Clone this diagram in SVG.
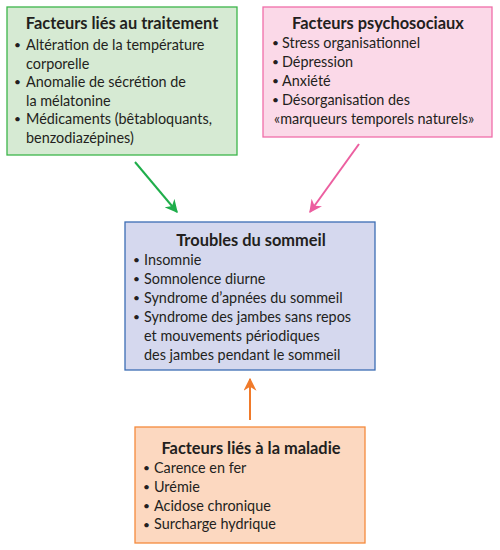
<svg xmlns="http://www.w3.org/2000/svg" width="500" height="550" viewBox="0 0 500 550">
<style>
text{font-family:Lato,"Open Sans","DejaVu Sans",sans-serif;font-size:14.4px;fill:#231f20}
.t{font-weight:bold;text-anchor:middle;font-size:16.4px}
.b{font-size:12px}
.box{stroke-width:1.3}
.a{fill:none;stroke-width:2}
</style>
<defs>
<marker id="mg" viewBox="0 0 10 10" refX="9" refY="5" markerWidth="13" markerHeight="13" orient="auto" markerUnits="userSpaceOnUse"><path d="M0,0L10,5L0,10L3,5z" fill="#1fae4b"/></marker>
<marker id="mp" viewBox="0 0 10 10" refX="9" refY="5" markerWidth="13" markerHeight="13" orient="auto" markerUnits="userSpaceOnUse"><path d="M0,0L10,5L0,10L3,5z" fill="#ec5fa0"/></marker>
<marker id="mo" viewBox="0 0 10 10" refX="9" refY="5" markerWidth="13" markerHeight="13" orient="auto" markerUnits="userSpaceOnUse"><path d="M0,0L10,5L0,10L3,5z" fill="#f07a2a"/></marker>
</defs>
<g id="connectors">
<line class="a" x1="135" y1="162" x2="177" y2="212" stroke="#1fae4b" marker-end="url(#mg)"/>
<line class="a" x1="359" y1="144" x2="310" y2="212" stroke="#ec5fa0" marker-end="url(#mp)"/>
<line class="a" x1="250" y1="420" x2="250" y2="379" stroke="#f07a2a" marker-end="url(#mo)"/>
</g>
<g id="traitement">
<rect class="box" x="7" y="7" width="230" height="148" fill="#d6ead3" stroke="#3cb54a"/>
<text class="t" x="122" y="29">Facteurs liés au traitement</text>
<text class="b" x="14" y="49">•</text><text x="26" y="50">Altération de la température</text>
<text x="26" y="68.5">corporelle</text>
<text class="b" x="14" y="86">•</text><text x="26" y="87">Anomalie de sécrétion de</text>
<text x="26" y="105.5">la mélatonine</text>
<text class="b" x="14" y="123">•</text><text x="26" y="124">Médicaments (bêtabloquants,</text>
<text x="26" y="142.5">benzodiazépines)</text>
</g>
<g id="psychosociaux">
<rect class="box" x="263" y="7" width="229" height="130" fill="#fbd9e8" stroke="#f06ea9"/>
<text class="t" x="378" y="29">Facteurs psychosociaux</text>
<text class="b" x="272" y="47">•</text><text x="282" y="48">Stress organisationnel</text>
<text class="b" x="272" y="66">•</text><text x="282" y="67">Dépression</text>
<text class="b" x="272" y="85">•</text><text x="282" y="86">Anxiété</text>
<text class="b" x="272" y="104">•</text><text x="282" y="105">Désorganisation des</text>
<text x="274" y="124">«marqueurs temporels naturels»</text>
</g>
<g id="troubles">
<rect class="box" x="125" y="222" width="250" height="148" fill="#d5d8ee" stroke="#3c6db4"/>
<text class="t" x="251" y="246">Troubles du sommeil</text>
<text class="b" x="133" y="264">•</text><text x="144" y="265">Insomnie</text>
<text class="b" x="133" y="283">•</text><text x="144" y="284">Somnolence diurne</text>
<text class="b" x="133" y="302">•</text><text x="144" y="303">Syndrome d’apnées du sommeil</text>
<text class="b" x="133" y="321">•</text><text x="144" y="322">Syndrome des jambes sans repos</text>
<text x="144" y="341">et mouvements périodiques</text>
<text x="144" y="360">des jambes pendant le sommeil</text>
</g>
<g id="maladie">
<rect class="box" x="135" y="427" width="230" height="116" fill="#fcd8c0" stroke="#f58a3c"/>
<text class="t" x="251" y="454">Facteurs liés à la maladie</text>
<text class="b" x="143" y="472">•</text><text x="154" y="473">Carence en fer</text>
<text class="b" x="143" y="491">•</text><text x="154" y="492">Urémie</text>
<text class="b" x="143" y="510">•</text><text x="154" y="511">Acidose chronique</text>
<text class="b" x="143" y="529">•</text><text x="154" y="529">Surcharge hydrique</text>
</g>
</svg>
